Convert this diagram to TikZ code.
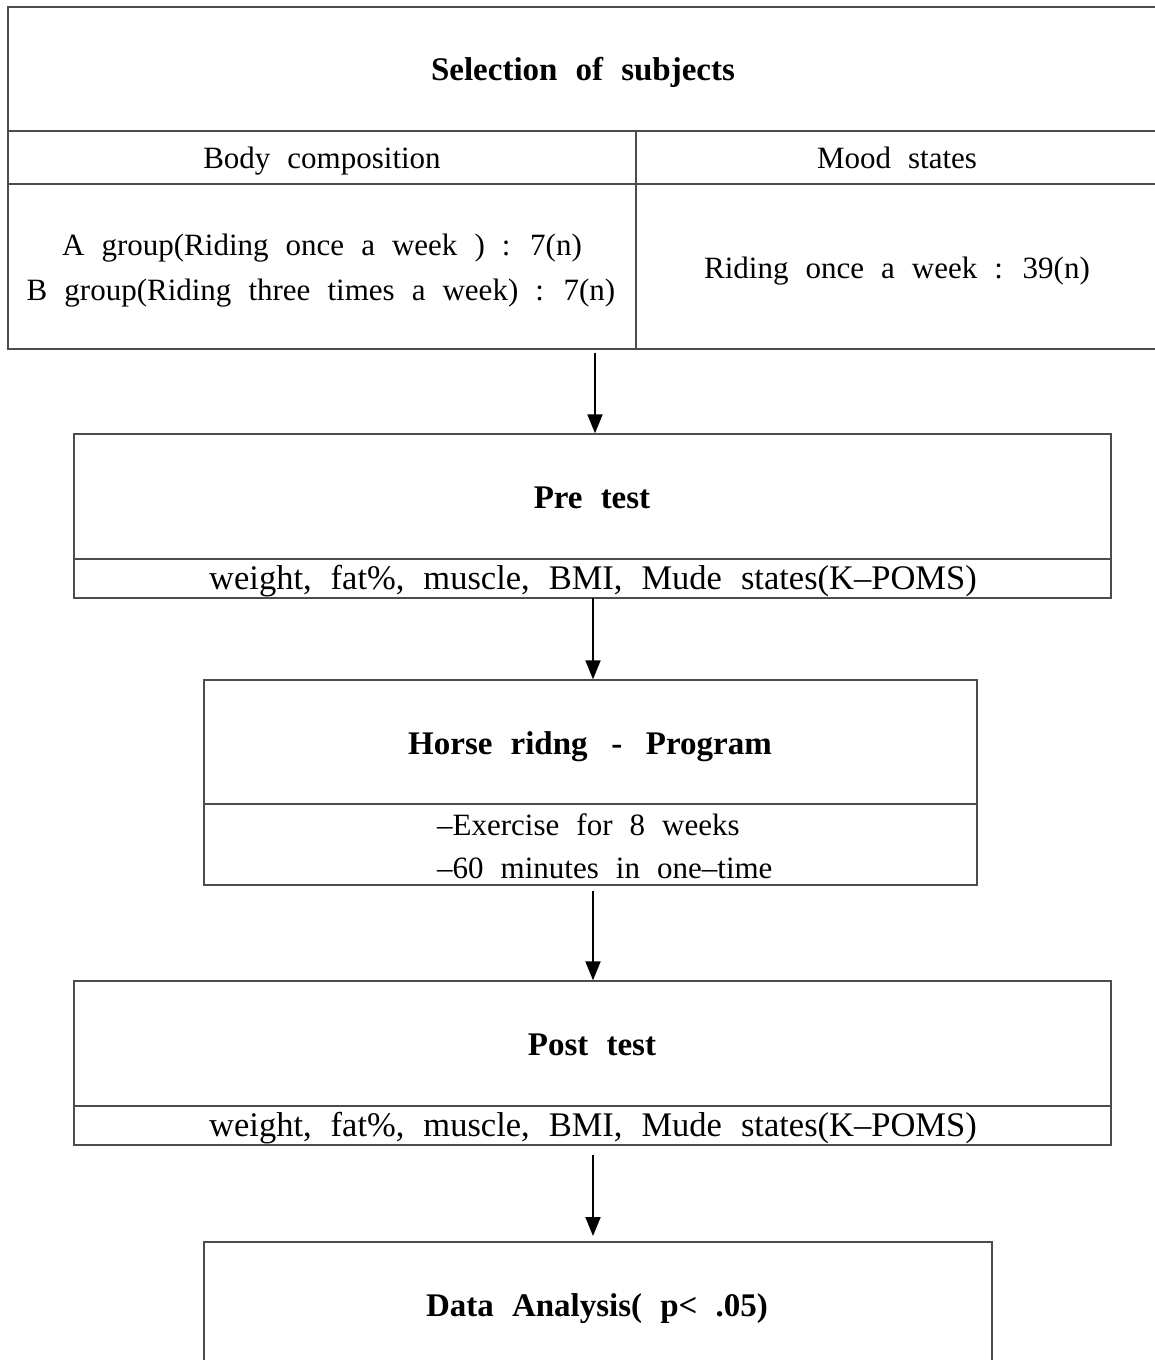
\documentclass[tikz,border=0pt]{standalone}
\usepackage{fontspec}
\setmainfont{Liberation Serif}[WordSpace=2.2]
\usetikzlibrary{arrows.meta}
\begin{document}
\begin{tikzpicture}[x=1pt,y=-1pt,
  frame/.style={draw=black!70,line width=1.4pt},
  box/.style={frame,rectangle,inner sep=0pt},
  txt/.style={inner sep=0pt,anchor=base,font=\fontsize{31}{37}\selectfont},
  big/.style={inner sep=0pt,anchor=base,font=\fontsize{34.5}{40}\selectfont},
  ttl/.style={inner sep=0pt,anchor=base,font=\fontsize{33}{39}\selectfont\bfseries},
  arr/.style={line width=2pt,-{Triangle[length=19pt,width=15pt]}}]
\useasboundingbox (0,0) rectangle (1154,1360);
% top table
\coordinate (tTR) at (1160,7);
\coordinate (tTL) at (8,7);
\coordinate (tBL) at (8,349);
\coordinate (tBR) at (1160,349);
\coordinate (h1L) at (8,131);
\coordinate (h1R) at (1160,131);
\coordinate (h2L) at (8,184);
\coordinate (h2R) at (1160,184);
\coordinate (vT) at (636,131);
\coordinate (vB) at (636,349);
\draw[frame] (tTR) -- (tTL) -- (tBL) -- (tBR);
\draw[frame] (h1L) -- (h1R);
\draw[frame] (h2L) -- (h2R);
\draw[frame] (vT) -- (vB);
\node[ttl] (sel) at (583,80) {Selection of subjects};
\node[txt] (bc) at (322,168) {Body composition};
\node[txt] (ms) at (897,168) {Mood states};
\node[txt] (ga) at (322,255) {A group(Riding once a week ) : 7(n)};
\node[txt] (gb) at (321,300) {B group(Riding three times a week) : 7(n)};
\node[txt] (rid) at (897,278) {Riding once a week : 39(n)};
% pre test
\node[box,minimum width=1037,minimum height=164] (pre) at (592.5,516) {};
\draw[frame] (pre.west |- 0,559) -- (pre.east |- 0,559);
\node[ttl] (pret) at (592,508) {Pre test};
\node[big] (pres) at (593,589) {weight, fat\%, muscle, BMI, Mude states(K–POMS)};
% horse riding program
\node[box,minimum width=773,minimum height=205] (hrp) at (590.5,782.5) {};
\draw[frame] (hrp.west |- 0,804) -- (hrp.east |- 0,804);
\node[ttl] (hrpt) at (590,754) {Horse ridng \,-\, Program};
\node[txt,anchor=base west] (ex1) at (437,835) {–Exercise for 8 weeks};
\node[txt,anchor=base west] (ex2) at (437,878) {–60 minutes in one–time};
% post test
\node[box,minimum width=1037,minimum height=164] (post) at (592.5,1063) {};
\draw[frame] (post.west |- 0,1106) -- (post.east |- 0,1106);
\node[ttl] (postt) at (592,1055) {Post test};
\node[big] (posts) at (593,1136) {weight, fat\%, muscle, BMI, Mude states(K–POMS)};
% data analysis (cut at bottom)
\coordinate (dBL) at (204,1365);
\coordinate (dTL) at (204,1242);
\coordinate (dTR) at (992,1242);
\coordinate (dBR) at (992,1365);
\draw[frame] (dBL) -- (dTL) -- (dTR) -- (dBR);
\node[ttl] (dat) at (597,1316) {Data Analysis( p< .05)};
% arrows
\coordinate (a1) at (595,353);
\coordinate (a2) at (593,598);
\coordinate (a3) at (593,891);
\coordinate (a4) at (593,1155);
\coordinate (a4e) at (593,1236);
\draw[arr] (a1) -- (a1 |- pre.north);
\draw[arr] (a2) -- (a2 |- hrp.north);
\draw[arr] (a3) -- (a3 |- post.north);
\draw[arr] (a4) -- (a4e);
\end{tikzpicture}
\end{document}
